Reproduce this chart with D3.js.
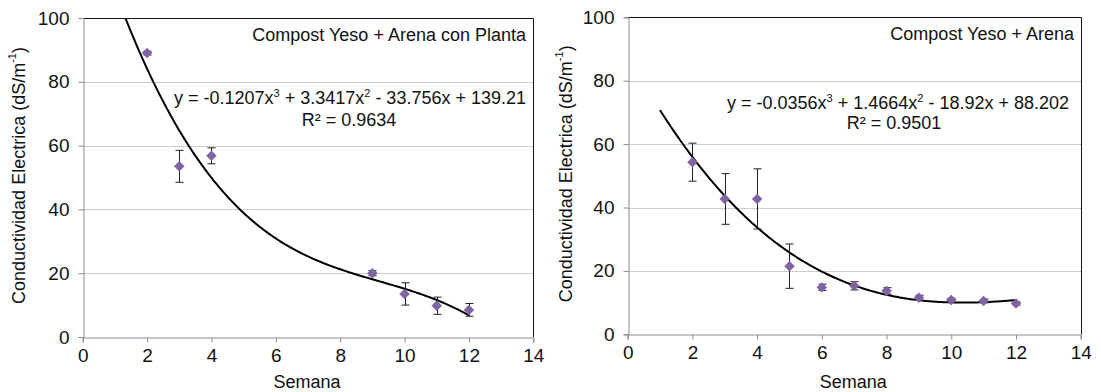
<!DOCTYPE html>
<html>
<head>
<meta charset="utf-8">
<script src="https://cdn.jsdelivr.net/npm/d3@7"></script>
<style>
  html, body { margin: 0; padding: 0; background: #fff; }
  svg { display: block; }
  text { font-family: "Liberation Sans", Arial, sans-serif; fill: #111; }
</style>
</head>
<body>
<svg id="chart" width="1101" height="392"></svg>
<script>
// Weekly electrical conductivity (dS/m^-1), mean with error bars
const weeksPlanta = [2, 3, 4, 9, 10, 11, 12];
const ecPlanta = [89, 53.5, 56.8, 20, 13.5, 9.8, 8.5];
const errPlanta = [0.6, 5, 2.5, 0.8, 3.5, 2.7, 2];

const weeksArena = [2, 3, 4, 5, 6, 7, 8, 9, 10, 11, 12];
const ecArena = [54.3, 42.7, 42.7, 21.5, 14.8, 15.3, 13.7, 11.5, 10.8, 10.5, 9.7];
const errArena = [6, 8, 9.5, 7, 1, 1.3, 1, 0.8, 0.6, 0.6, 0.5];

// Cubic trend line coefficients (x^3, x^2, x, constant) and R²
const coefPlanta = [-0.1207, 3.3417, -33.756, 139.21];
const coefArena = [-0.0356, 1.4664, -18.92, 88.202];
const r2Planta = "0.9634";
const r2Arena = "0.9501";

const titles = ["Compost Yeso + Arena con Planta", "Compost Yeso + Arena"];
const xTicks = [0, 2, 4, 6, 8, 10, 12, 14];
const yTicks = [0, 20, 40, 60, 80, 100];
const xLabel = "Semana";

const svg = d3.select("#chart");

const panels = [
  {
    weeks: weeksPlanta, ec: ecPlanta, err: errPlanta, coef: coefPlanta, r2: r2Planta,
    title: titles[0],
    box: { x0: 82.7, x1: 533.3, y0: 337, y1: 18 },
    yLabelX: 19,
    titlePos: { x: 526, y: 41 },
    eqPos: { x: 526, y: 104 },
    r2Pos: { x: 349, y: 126 }
  },
  {
    weeks: weeksArena, ec: ecArena, err: errArena, coef: coefArena, r2: r2Arena,
    title: titles[1],
    box: { x0: 627.7, x1: 1080.7, y0: 334.3, y1: 17.3 },
    yLabelX: 566,
    titlePos: { x: 1074, y: 39.5 },
    eqPos: { x: 1069, y: 109 },
    r2Pos: { x: 894, y: 128.5 }
  }
];

function poly(c, x) {
  return ((c[0] * x + c[1]) * x + c[2]) * x + c[3];
}

function fmt(v) {
  return Math.abs(v).toString();
}

panels.forEach((p, i) => {
  const b = p.box;
  const x = d3.scaleLinear().domain([0, 14]).range([b.x0, b.x1]);
  const y = d3.scaleLinear().domain([0, 100]).range([b.y0, b.y1]);
  const g = svg.append("g");

  const clipId = "clip" + i;
  svg.append("clipPath").attr("id", clipId)
    .append("rect")
    .attr("x", b.x0).attr("y", b.y1)
    .attr("width", b.x1 - b.x0).attr("height", b.y0 - b.y1);

  // dotted horizontal gridlines
  g.selectAll("line.grid")
    .data(yTicks.filter(t => t > 0 && t < 100))
    .join("line")
    .attr("class", "grid")
    .attr("x1", b.x0).attr("x2", b.x1)
    .attr("y1", d => Math.round(y(d)) + 0.5).attr("y2", d => Math.round(y(d)) + 0.5)
    .attr("stroke", "#9a9a9a").attr("stroke-width", 1)
    .attr("stroke-dasharray", "1,1");

  // plot area border (top and right)
  g.append("path")
    .attr("d", `M${b.x0},${Math.round(b.y1) + 0.5}H${Math.round(b.x1) + 0.5}V${b.y0}`)
    .attr("fill", "none").attr("stroke", "#111").attr("stroke-width", 1);

  // x axis
  const xAxis = d3.axisBottom(x).tickValues(xTicks).tickSize(5).tickPadding(6).tickFormat(d3.format("d"));
  const gx = g.append("g").attr("transform", `translate(0,${Math.round(b.y0) + 0.5})`).call(xAxis);
  gx.select(".domain").attr("stroke", "#8c8c8c");
  gx.selectAll(".tick line").attr("stroke", "#8c8c8c");
  gx.selectAll(".tick text")
    .attr("font-size", 19).attr("fill", "#111")
    .attr("font-family", "Liberation Sans, Arial, sans-serif");

  // y axis
  const yAxis = d3.axisLeft(y).tickValues(yTicks).tickSize(5).tickPadding(9).tickFormat(d3.format("d"));
  const gy = g.append("g").attr("transform", `translate(${Math.round(b.x0) + 0.5},0)`).call(yAxis);
  gy.select(".domain").attr("stroke", "#8c8c8c");
  gy.selectAll(".tick line").attr("stroke", "#8c8c8c");
  gy.selectAll(".tick text")
    .attr("font-size", 19).attr("fill", "#111")
    .attr("font-family", "Liberation Sans, Arial, sans-serif");

  // axis titles
  g.append("text")
    .attr("x", (b.x0 + b.x1) / 2 - 1).attr("y", 388)
    .attr("text-anchor", "middle").attr("font-size", 18)
    .text(xLabel);

  const yl = g.append("text")
    .attr("transform", `translate(${p.yLabelX},${(b.y0 + b.y1) / 2 - 2}) rotate(-90)`)
    .attr("text-anchor", "middle").attr("dominant-baseline", "central")
    .attr("font-size", 18);
  yl.append("tspan").text("Conductividad Electrica (dS/m");
  yl.append("tspan").attr("font-size", 11).attr("dy", -7).text("-1");
  yl.append("tspan").attr("dy", 7).text(")");

  // trend line from the fitted cubic, week 1 to 12
  const xs = d3.range(1, 12.0001, 0.05);
  g.append("path")
    .datum(xs)
    .attr("clip-path", `url(#${clipId})`)
    .attr("fill", "none").attr("stroke", "#000").attr("stroke-width", 2)
    .attr("d", d3.line().x(d => x(d)).y(d => y(poly(p.coef, d))));

  // error bars
  const rows = p.weeks.map((w, k) => ({ w, v: p.ec[k], e: p.err[k] }));
  const eb = g.append("g").attr("stroke", "#222").attr("stroke-width", 1);
  rows.forEach(r => {
    const cx = Math.round(x(r.w)) + 0.5;
    const yt = y(r.v + r.e), yb = y(r.v - r.e);
    eb.append("line").attr("x1", cx).attr("x2", cx).attr("y1", yt).attr("y2", yb);
    eb.append("line").attr("x1", cx - 4).attr("x2", cx + 4).attr("y1", yt).attr("y2", yt);
    eb.append("line").attr("x1", cx - 4).attr("x2", cx + 4).attr("y1", yb).attr("y2", yb);
  });

  // diamond markers
  const diamond = d3.symbol().type(d3.symbolDiamond2).size(70);
  g.selectAll("path.pt")
    .data(rows)
    .join("path")
    .attr("class", "pt")
    .attr("transform", d => `translate(${x(d.w)},${y(d.v)})`)
    .attr("d", diamond)
    .attr("fill", "#8064A2");

  // series title
  g.append("text")
    .attr("x", p.titlePos.x).attr("y", p.titlePos.y)
    .attr("text-anchor", "end").attr("font-size", 18)
    .text(p.title);

  // trend equation
  const c = p.coef;
  const eq = g.append("text")
    .attr("x", p.eqPos.x).attr("y", p.eqPos.y)
    .attr("text-anchor", "end").attr("font-size", 18);
  eq.append("tspan").text(`y = ${c[0] < 0 ? "-" : ""}${fmt(c[0])}x`);
  eq.append("tspan").attr("font-size", 11).attr("dy", -7).text("3");
  eq.append("tspan").attr("dy", 7).text(` ${c[1] < 0 ? "-" : "+"} ${fmt(c[1])}x`);
  eq.append("tspan").attr("font-size", 11).attr("dy", -7).text("2");
  eq.append("tspan").attr("dy", 7).text(` ${c[2] < 0 ? "-" : "+"} ${fmt(c[2])}x ${c[3] < 0 ? "-" : "+"} ${fmt(c[3])}`);

  g.append("text")
    .attr("x", p.r2Pos.x).attr("y", p.r2Pos.y)
    .attr("text-anchor", "middle").attr("font-size", 18)
    .text(`R² = ${p.r2}`);
});
</script>
</body>
</html>
